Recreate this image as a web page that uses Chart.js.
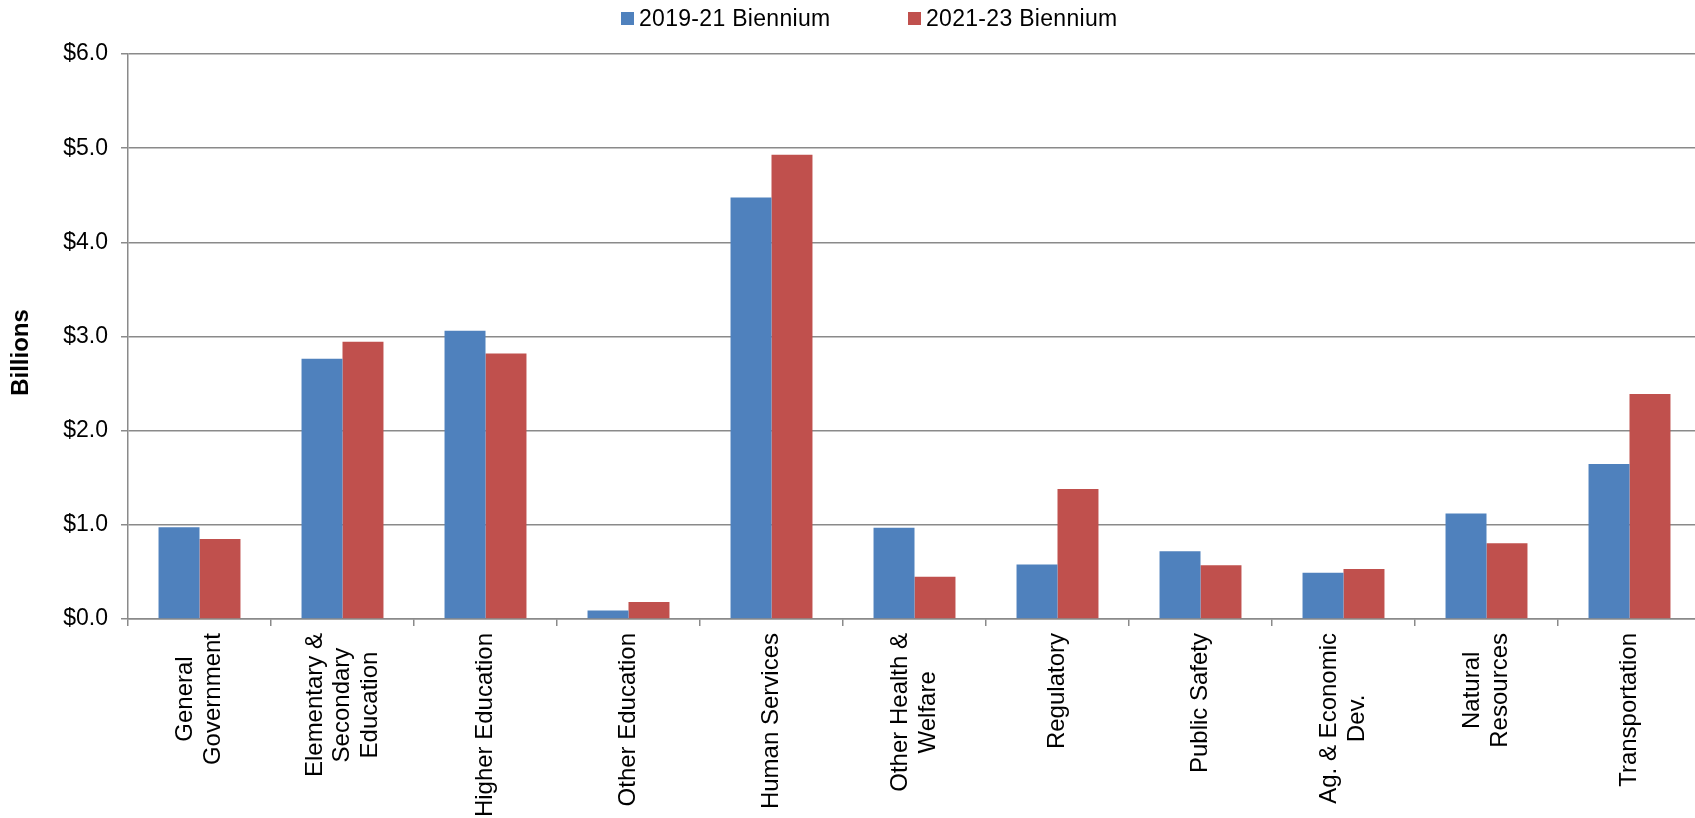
<!DOCTYPE html>
<html lang="en">
<head>
    <meta charset="UTF-8">
    <title>Biennium Spending by Program Area</title>
    <script src="https://cdn.jsdelivr.net/npm/chart.js@4.4.1/dist/chart.umd.min.js"></script>
    <style>
        html, body { margin: 0; padding: 0; background: #fff; overflow: hidden; }
        #wrap { position: relative; width: 1701px; height: 818px; }
        #legend {
            position: absolute; top: 5px; left: 621px;
            display: flex; align-items: center;
            font-family: "Liberation Sans", Arial, sans-serif; font-size: 23px; color: #000;
            letter-spacing: 0.3px;
        }
        .item { display: flex; align-items: center; width: 287px; }
        .swatch { width: 13px; height: 13px; margin-right: 5px; }
    </style>
</head>
<body>
    <div id="wrap">
        <canvas id="chart"></canvas>
        <div id="legend"></div>
    </div>

    <script>
        // chart data
        const categories = [
            ['General', 'Government'],
            ['Elementary &', 'Secondary', 'Education'],
            ['Higher Education'],
            ['Other Education'],
            ['Human Services'],
            ['Other Health &', 'Welfare'],
            ['Regulatory'],
            ['Public Safety'],
            ['Ag. & Economic', 'Dev.'],
            ['Natural', 'Resources'],
            ['Transportation']
        ];
        const seriesNames = ['2019-21 Biennium', '2021-23 Biennium'];
        const biennium1921 = [0.975, 2.765, 3.06, 0.09, 4.475, 0.97, 0.58, 0.72, 0.49, 1.12, 1.645];
        const biennium2123 = [0.85, 2.945, 2.82, 0.18, 4.93, 0.45, 1.38, 0.57, 0.53, 0.805, 2.39];
        const yTicks = [0, 1, 2, 3, 4, 5, 6];
        const yTitle = 'Billions';

        const colors = ['#4F81BD', '#C0504D'];
        const gridColor = '#8a8a8a';
        const fontFamily = '"Liberation Sans", Arial, sans-serif';

        Chart.defaults.font.family = fontFamily;
        Chart.defaults.color = '#000';

        // legend in html so the spacing can match
        const legend = document.getElementById('legend');
        seriesNames.forEach((name, i) => {
            const item = document.createElement('div');
            item.className = 'item';
            item.innerHTML = '<span class="swatch" style="background:' + colors[i] + '"></span><span>' + name + '</span>';
            legend.appendChild(item);
        });

        // rotated, centred multi-line category labels + axis title
        const axisText = {
            id: 'axisText',
            afterDraw(chart) {
                const ctx = chart.ctx;
                const xs = chart.scales.x;
                ctx.save();
                ctx.fillStyle = '#000';
                ctx.textAlign = 'center';
                ctx.textBaseline = 'middle';

                ctx.font = '24px ' + fontFamily;
                categories.forEach((lines, i) => {
                    const x = xs.getPixelForValue(i);
                    const w = Math.max(...lines.map(l => ctx.measureText(l).width));
                    const cy = xs.top + 14 + w / 2;
                    ctx.save();
                    ctx.translate(x, cy);
                    ctx.rotate(-Math.PI / 2);
                    lines.forEach((l, j) => ctx.fillText(l, 0, (j - (lines.length - 1) / 2) * 27.5));
                    ctx.restore();
                });

                // y title sits a little below the middle of the plot
                const area = chart.chartArea;
                ctx.font = 'bold 24px ' + fontFamily;
                ctx.translate(21, (area.top + area.bottom) / 2 + 16);
                ctx.rotate(-Math.PI / 2);
                ctx.fillText(yTitle, 0, 0);
                ctx.restore();
            }
        };

        new Chart(document.getElementById('chart'), {
            type: 'bar',
            data: {
                labels: categories.map(c => c.join(' ')),
                datasets: [
                    { label: seriesNames[0], data: biennium1921, backgroundColor: colors[0] },
                    { label: seriesNames[1], data: biennium2123, backgroundColor: colors[1] }
                ]
            },
            options: {
                responsive: true,
                maintainAspectRatio: false,
                animation: false,
                layout: { padding: { top: 54, left: 0, right: 0, bottom: 0 } },
                datasets: { bar: { categoryPercentage: 0.573, barPercentage: 1 } },
                plugins: {
                    legend: { display: false },
                    tooltip: { enabled: false }
                },
                scales: {
                    x: {
                        grid: { display: true, drawOnChartArea: false, drawTicks: true, tickLength: 7, color: gridColor, lineWidth: 1.5 },
                        border: { display: true, color: gridColor, width: 1.5 },
                        ticks: { display: false },
                        afterFit: s => { s.height = 199; }
                    },
                    y: {
                        min: 0,
                        max: 6,
                        afterBuildTicks: s => { s.ticks = yTicks.map(v => ({ value: v })); },
                        grid: { color: gridColor, lineWidth: 1.5, tickLength: 7 },
                        border: { display: true, color: gridColor, width: 1.5 },
                        ticks: {
                            padding: 13,
                            font: { size: 23 },
                            callback: v => '$' + v.toFixed(1)
                        },
                        afterFit: s => { s.width = 128; }
                    }
                }
            },
            plugins: [axisText]
        });
    </script>
</body>
</html>
